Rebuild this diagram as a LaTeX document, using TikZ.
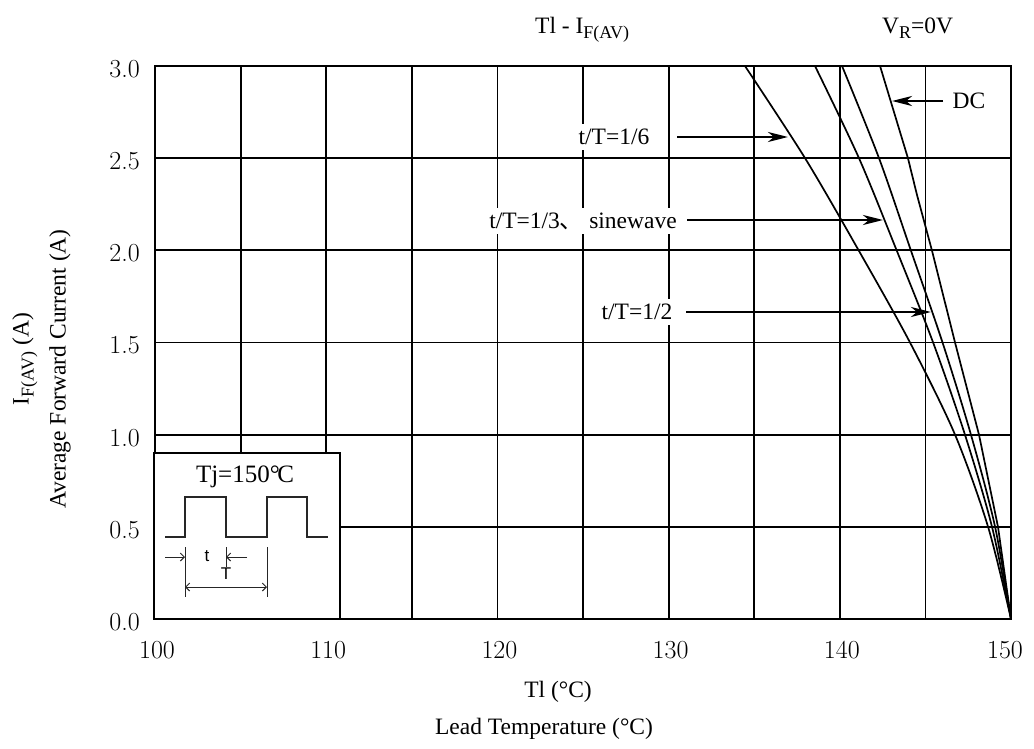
\documentclass[tikz,border=0pt]{standalone}
\usepackage{fontspec}
\usetikzlibrary{arrows.meta}
\newfontfamily\tms{Liberation Serif}
\newfontfamily\arl{Liberation Sans}
\newfontfamily\cjk{Noto Sans CJK SC}
\newcommand\degC{°\kern-2.5pt C}
\begin{document}
\begin{tikzpicture}[x=1pt,y=-1pt,
  gridline/.style={line width=1.8pt},
  framebox/.style={line width=2.4pt},
  curve/.style={line width=1.7pt,line join=round},
  lbl/.style={font=\tms\fontsize{23.5}{26}\selectfont,fill=white,inner xsep=3pt,inner ysep=5pt},
  pointer/.style={line width=2.8pt,-{Stealth[length=20pt,width=10pt,inset=6pt]}},
  ticklbl/.style={font=\fontsize{26}{28}\selectfont\addfontfeatures{LetterSpace=12},inner sep=0pt},
  ttl/.style={font=\tms\fontsize{23.5}{26}\selectfont,inner sep=0pt},
  wave/.style={line width=1.5pt,black!85},
  dim/.style={line width=1pt,black!85},
  dimarrow/.style={dim,-{Straight Barb[length=4pt,width=8pt]}},
  smalltxt/.style={font=\arl\fontsize{17}{18}\selectfont,inner sep=0pt}
]
\useasboundingbox (0,0) rectangle (1034,749);
\fill[white] (0,0) rectangle (1034,749);

% plot area in data coordinates (T in degC, I in A)
\begin{scope}[shift={(-1557,619)},x=17.12pt,y=184.34pt]
  \foreach \t in {105,110,...,145} \draw[gridline] (\t,0) -- (\t,3);
  \foreach \i in {0.5,1,1.5,2,2.5} \draw[gridline] (100,\i) -- (150,\i);
  \draw[framebox] (100,0) rectangle (150,3);
  % t/T = 1/6
  \draw[curve] plot[smooth,tension=0.5] coordinates {(134.46,3) (137.97,2.5) (141.10,2) (144.10,1.5) (146.73,1) (148.66,0.5) (150,0)};
  % t/T = 1/3, sinewave
  \draw[curve] plot[smooth,tension=0.5] coordinates {(138.55,3) (141.12,2.5) (143.32,2) (145.45,1.5) (147.31,1) (148.89,0.5) (150,0)};
  % t/T = 1/2
  \draw[curve] plot[smooth,tension=0.5] coordinates {(140.13,3) (142.29,2.5) (144.15,2) (146.00,1.5) (147.66,1) (149.07,0.5) (150,0)};
  % DC
  \draw[curve] (142.35,3) -- (143.98,2.5) -- (144.51,2.3) -- (145.38,2) -- (146.73,1.5) -- (148.13,1) -- (149.24,0.5) -- (150,0);
\end{scope}

% curve labels and pointers
\node[lbl] (l16) at (614,137) {t/T=1/6};
\node[lbl] (l13) at (583,221) {t/T=1/3{\cjk 、} sinewave};
\node[lbl] (l12) at (637,312) {t/T=1/2};
\node[lbl] (ldc) at (969,101) {DC};
\coordinate (s16) at (677,137); \coordinate (e16) at (788,137);
\coordinate (s13) at (687,220); \coordinate (e13) at (883,220);
\coordinate (s12) at (686,312); \coordinate (e12) at (931,312);
\coordinate (sdc) at (943,101); \coordinate (edc) at (892,101);
\draw[pointer] (s16) -- (e16);
\draw[pointer] (s13) -- (e13);
\draw[pointer] (s12) -- (e12);
\draw[pointer] (sdc) -- (edc);

% tick labels
\foreach \t/\x in {100/157,110/328.2,120/499.4,130/670.6,140/841.8,150/1005}
  \node[ticklbl] (xt\t) at (\x,650) {\t};
\foreach \v/\y [count=\k] in {0.0/619,0.5/526.8,1.0/434.7,1.5/342.5,2.0/250.3,2.5/158.2,3.0/66}
  \node[ticklbl,anchor=east] (yt\k) at (140,\y+3) {\v};

% titles
\node[ttl,anchor=base west] (title) at (535,34) {Tl - I{\fontsize{18}{18}\selectfont\raisebox{-5pt}{F(AV)}}};
\node[ttl,anchor=base west] (vr) at (882,34) {V{\fontsize{18}{18}\selectfont\raisebox{-5pt}{R}}=0V};
\node[ttl,rotate=90] (ylab1) at (25,359) {I{\fontsize{18}{18}\selectfont\raisebox{-5pt}{F(AV)}} (A)};
\node[ttl,rotate=90] (ylab2) at (60,369) {Average Forward Current (A)};
\node[ttl] (xlab1) at (558,692) {Tl (°C)};
\node[ttl] (xlab2) at (544,729) {Lead Temperature (°C)};

% inset
\node[draw,line width=2pt,fill=white,minimum width=186pt,minimum height=166pt,inner sep=0pt,anchor=north west] (inset) at (153,452) {};
\node[ttl,font=\tms\fontsize{25}{27}\selectfont] (tj) at (245,477) {Tj=150\degC};
\draw[wave] (165,537) -- (185,537) -- (185,497) -- (226,497) -- (226,537) -- (267,537) -- (267,497) -- (307,497) -- (307,537) -- (328,537);
\draw[dim] (185,547) -- (185,597);
\draw[dim] (226,547) -- (226,567);
\draw[dim] (267,547) -- (267,597);
\coordinate (ta0) at (165,557); \coordinate (ta1) at (185,557);
\coordinate (tb0) at (247,557); \coordinate (tb1) at (226,557);
\coordinate (Ta) at (185,587); \coordinate (Tb) at (267,587);
\draw[dimarrow] (ta0) -- (ta1);
\draw[dimarrow] (tb0) -- (tb1);
\draw[dim,{Straight Barb[length=4pt,width=8pt]}-{Straight Barb[length=4pt,width=8pt]}] (Ta) -- (Tb);
\node[smalltxt] (tlab) at (207,556) {t};
\node[smalltxt] (Tlab) at (226,574) {T};
\end{tikzpicture}
\end{document}
